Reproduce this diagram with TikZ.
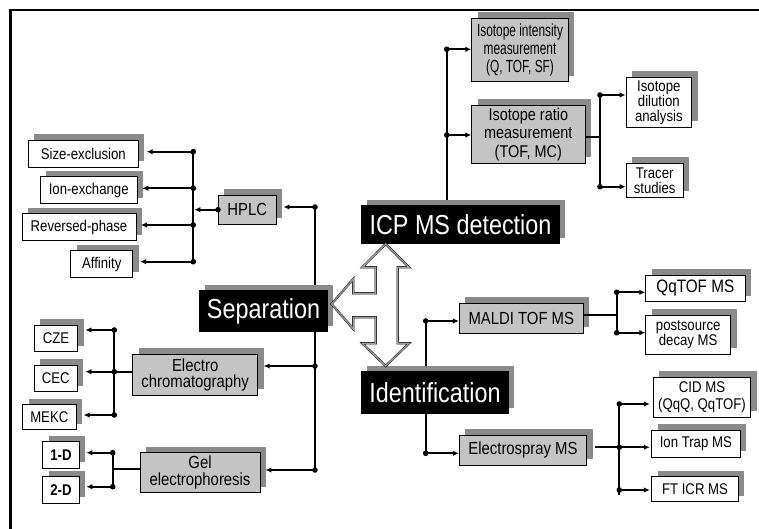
\documentclass[tikz,border=0pt]{standalone}
\usepackage{fontspec}
\setmainfont{Liberation Sans}[FakeStretch=0.85]
\newfontfamily\narrowfont{Liberation Sans}[FakeStretch=0.68]
\usetikzlibrary{shadows,arrows.meta}
\pgfdeclarelayer{background}
\pgfsetlayers{background,main}
\definecolor{boxgray}{HTML}{C4C4C4}
\definecolor{shadegray}{HTML}{8A8A8A}
\newcommand\setsz[2]{\fontsize{#1}{#2}\selectfont}

\tikzset{
  every node/.style={inner sep=0pt, align=center},
  basebox/.style={draw=black, line width=0.8pt,
    general shadow={fill=shadegray, shadow xshift=6pt, shadow yshift=6pt}},
  whitebox/.style={basebox, fill=white, font=\setsz{15.5}{15}},
  graybox/.style={basebox, fill=boxgray, font=\setsz{17.5}{17}},
  headbox/.style={draw=black, line width=0.8pt, fill=black, text=white,
    font=\setsz{27.5}{30},
    general shadow={fill=shadegray, shadow xshift=5.5pt, shadow yshift=5.5pt}},
  conn/.style={line width=1.8pt},
  bus/.style={line width=2.3pt},
  arr/.style={conn, -{Latex[length=6pt,width=5.5pt]}},
  dot/.style={circle, fill=black, minimum size=5.6pt, inner sep=0pt},
  bigarrow/.style={draw=black, line width=0.45pt, double=gray!75,
    double distance=1.3pt, fill=white, line join=miter},
}

\begin{document}
\begin{tikzpicture}[x=1pt,y=-1pt]
\useasboundingbox (0,0) rectangle (759,529);

% outer frame
\draw[line width=2.2pt] (10.5,530) -- (10.5,10) -- (760,10);

% ---------- separation branch ----------
\node[whitebox, minimum width=110pt, minimum height=27pt]  (sizeex) at (83.3,153.7) {Size-exclusion};
\node[whitebox, minimum width=97.3pt, minimum height=27pt] (ionex)  at (88.7,190.3) {Ion-exchange};
\node[whitebox, minimum width=114pt, minimum height=27pt]  (revph)  at (79,227.3)   {Reversed-phase};
\node[whitebox, minimum width=62pt, minimum height=27pt]   (affin)  at (101.7,264)  {Affinity};
\node[graybox, minimum width=57.7pt, minimum height=29.3pt] (hplc)  at (247.2,209.7) {HPLC};

\node[headbox, minimum width=128.4pt, minimum height=41pt] (separ) at (263.5,311.2) {Separation};

\node[graybox, font=\setsz{17.5}{16.2}, minimum width=125pt, minimum height=40.7pt] (electro) at (195.2,374.7) {Electro\\chromatography};
\node[whitebox, minimum width=43.4pt, minimum height=26.7pt] (cze)  at (56,338.3)  {CZE};
\node[whitebox, minimum width=43pt, minimum height=26.7pt]   (cec)  at (55.8,378.5) {CEC};
\node[whitebox, minimum width=53.3pt, minimum height=25pt]   (mekc) at (49.3,417)   {MEKC};

\node[graybox, font=\setsz{17.5}{17.5}, minimum width=120pt, minimum height=40pt] (gel) at (200,472.7) {Gel\\electrophoresis};
\node[whitebox, font=\setsz{15.5}{15}\bfseries, minimum width=36.6pt, minimum height=26.6pt] (oned) at (61,455) {1-D};
\node[whitebox, font=\setsz{15.5}{15}\bfseries, minimum width=36.6pt, minimum height=26.6pt] (twod) at (61,490) {2-D};

% ---------- ICP MS branch ----------
\node[headbox, minimum width=197.6pt, minimum height=38.3pt] (icp) at (460.5,224.2) {ICP MS detection};
\node[graybox, font=\narrowfont\setsz{17.5}{18.3}, minimum width=96.6pt, minimum height=63.4pt] (isoint) at (520,50) {Isotope intensity\\measurement\\(Q, TOF, SF)};
\node[graybox, font=\setsz{17}{18.5}, minimum width=113.3pt, minimum height=58.3pt] (isorat) at (528.3,134.2) {Isotope ratio\\measurement\\(TOF, MC)};
\node[whitebox, minimum width=65.7pt, minimum height=50pt] (isodil) at (658.8,102.3) {Isotope\\dilution\\analysis};
\node[whitebox, minimum width=57.3pt, minimum height=34pt] (tracer) at (654.7,180.3) {Tracer\\studies};

% ---------- identification branch ----------
\node[headbox, minimum width=146.6pt, minimum height=41.6pt] (ident) at (435,392.5) {Identification};
\node[graybox, minimum width=124pt, minimum height=30pt]   (maldi)  at (521.3,318.3) {MALDI TOF MS};
\node[graybox, minimum width=127.4pt, minimum height=30pt] (espray) at (523,450) {Electrospray MS};
\node[whitebox, font=\setsz{18}{18}, minimum width=99.3pt, minimum height=26.7pt] (qqtof) at (695.3,288.3) {QqTOF MS};
\node[whitebox, minimum width=85pt, minimum height=39.3pt] (psd) at (688.2,334.7) {postsource\\decay MS};
\node[whitebox, font=\setsz{15.5}{16.7}, minimum width=97.4pt, minimum height=40pt] (cid) at (702,397.3) {CID MS\\(QqQ, QqTOF)};
\node[whitebox, minimum width=88.3pt, minimum height=27.3pt] (iontrap) at (695.8,443.7) {Ion Trap MS};
\node[whitebox, minimum width=86.6pt, minimum height=25pt]   (fticr)   at (695,489.2) {FT ICR MS};

% junction points of the connectors
\coordinate (hb1) at (193.3,151.7);
\coordinate (hb2) at (193.3,188.3);
\coordinate (hb3) at (193.3,225);
\coordinate (hb4) at (193.3,261.7);
\coordinate (sv1) at (315,207);
\coordinate (sv2) at (315,366);
\coordinate (sv3) at (315,470);
\coordinate (eb1) at (114.3,330);
\coordinate (eb2) at (114.3,371.7);
\coordinate (eb3) at (114.3,415);
\coordinate (gb1) at (112.7,452.7);
\coordinate (gj)  at (112.7,469.3);
\coordinate (gb2) at (112.7,486.7);
\coordinate (iv1) at (446.7,49.3);
\coordinate (iv2) at (446.7,135);
\coordinate (rb1) at (600,95);
\coordinate (rj)  at (600,137.3);
\coordinate (rb2) at (600,186.7);
\coordinate (dv1) at (425.7,321);
\coordinate (dv2) at (425.7,453.3);
\coordinate (mb1) at (616.7,292.3);
\coordinate (mj)  at (616.7,315);
\coordinate (mb2) at (616.7,332.7);
\coordinate (sb1) at (619.3,404);
\coordinate (sb2) at (619.3,447.3);
\coordinate (sb3) at (619.3,490);
\coordinate (sbe) at (619.3,495);

\begin{pgfonlayer}{background}
  % trunk behind the Separation box
  \draw[bus] (sv1) -- (sv3);
  % trunks behind the ICP and Identification boxes
  \draw[bus] (iv1) -- (iv1 |- icp.north);
  \draw[bus] (dv1) -- (dv1 |- ident.north);
  \draw[bus] (dv2) -- (dv2 |- ident.south);
\end{pgfonlayer}

% HPLC group
\draw[bus] (hb1) -- (hb4);
\draw[arr] (hb1) -- ([xshift=8pt]hb1 -| sizeex.east);
\draw[arr] (hb2) -- ([xshift=4.5pt]hb2 -| ionex.east);
\draw[arr] (hb3) -- ([xshift=4.5pt]hb3 -| revph.east);
\draw[arr] (hb4) -- ([xshift=7pt]hb4 -| affin.east);
\draw[arr, shorten >=1pt] (hplc.west) -- (hplc.west -| hb1);
\node[dot] at (hplc.west) {};
\foreach \p in {hb1,hb2,hb3,hb4} \node[dot] at (\p) {};

% trunk from Separation
\draw[arr] (sv1) -- ([xshift=7pt]sv1 -| hplc.east);
\draw[arr] (sv2) -- ([xshift=5.5pt]sv2 -| electro.east);
\draw[arr] (sv3) -- ([xshift=5pt]sv3 -| gel.east);
\foreach \p in {sv1,sv2,sv3} \node[dot] at (\p) {};

% electrochromatography group
\draw[bus] (eb1) -- (eb3);
\draw[conn] (eb2 -| electro.west) -- (eb2);
\draw[arr] (eb1) -- ([xshift=7.3pt]eb1 -| cze.east);
\draw[arr] (eb2) -- ([xshift=7.7pt]eb2 -| cec.east);
\draw[arr] (eb3) -- ([xshift=7.3pt]eb3 -| mekc.east);
\foreach \p in {eb1,eb2,eb3} \node[dot] at (\p) {};

% gel electrophoresis group
\draw[bus] (gb1) -- (gb2);
\draw[conn] (gj -| gel.west) -- (gj);
\draw[arr] (gb1) -- ([xshift=6.7pt]gb1 -| oned.east);
\draw[arr] (gb2) -- ([xshift=6.7pt]gb2 -| twod.east);
\foreach \p in {gb1,gb2} \node[dot] at (\p) {};

% ICP MS group
\draw[arr] (iv1) -- (iv1 -| isoint.west);
\draw[arr] (iv2) -- (iv2 -| isorat.west);
\foreach \p in {iv1,iv2} \node[dot] at (\p) {};
\draw[bus] (rb1) -- (rb2);
\draw[conn] (rj -| isorat.east) -- (rj);
\draw[arr] (rb1) -- (rb1 -| isodil.west);
\draw[arr] (rb2) -- (rb2 -| tracer.west);
\foreach \p in {rb1,rb2} \node[dot] at (\p) {};

% identification group
\draw[arr] (dv1) -- (dv1 -| maldi.west);
\draw[arr] (dv2) -- (dv2 -| espray.west);
\foreach \p in {dv1,dv2} \node[dot] at (\p) {};
\draw[bus] (mb1) -- (mb2);
\draw[conn] (mj -| maldi.east) -- (mj);
\draw[arr] (mb1) -- (mb1 -| qqtof.west);
\draw[arr] (mb2) -- (mb2 -| psd.west);
\foreach \p in {mb1,mb2} \node[dot] at (\p) {};
\draw[bus] (sb1) -- (sbe);
\draw[conn] ([xshift=8pt]sb2 -| espray.east) -- (sb2);
\draw[arr] (sb1) -- ([xshift=-3pt]sb1 -| cid.west);
\draw[arr] (sb2) -- ([xshift=-1.5pt]sb2 -| iontrap.west);
\draw[arr] (sb3) -- ([xshift=-1.5pt]sb3 -| fticr.west);
\foreach \p in {sb1,sb2,sb3} \node[dot] at (\p) {};

% three-way block arrow between the main stages
\draw[bigarrow]
  (385.7,244) -- (409,267.3) -- (397.7,267.3) -- (397.7,343.3) -- (409,343.3)
  -- (385.7,366) -- (362.3,343.3) -- (375.7,343.3) -- (375.7,317.3)
  -- (353.3,317.3) -- (353.3,329) -- (331.5,304) -- (353.3,279) -- (353.3,293.3)
  -- (375.7,293.3) -- (375.7,267.3) -- (362.3,267.3) -- cycle;
\end{tikzpicture}
\end{document}
